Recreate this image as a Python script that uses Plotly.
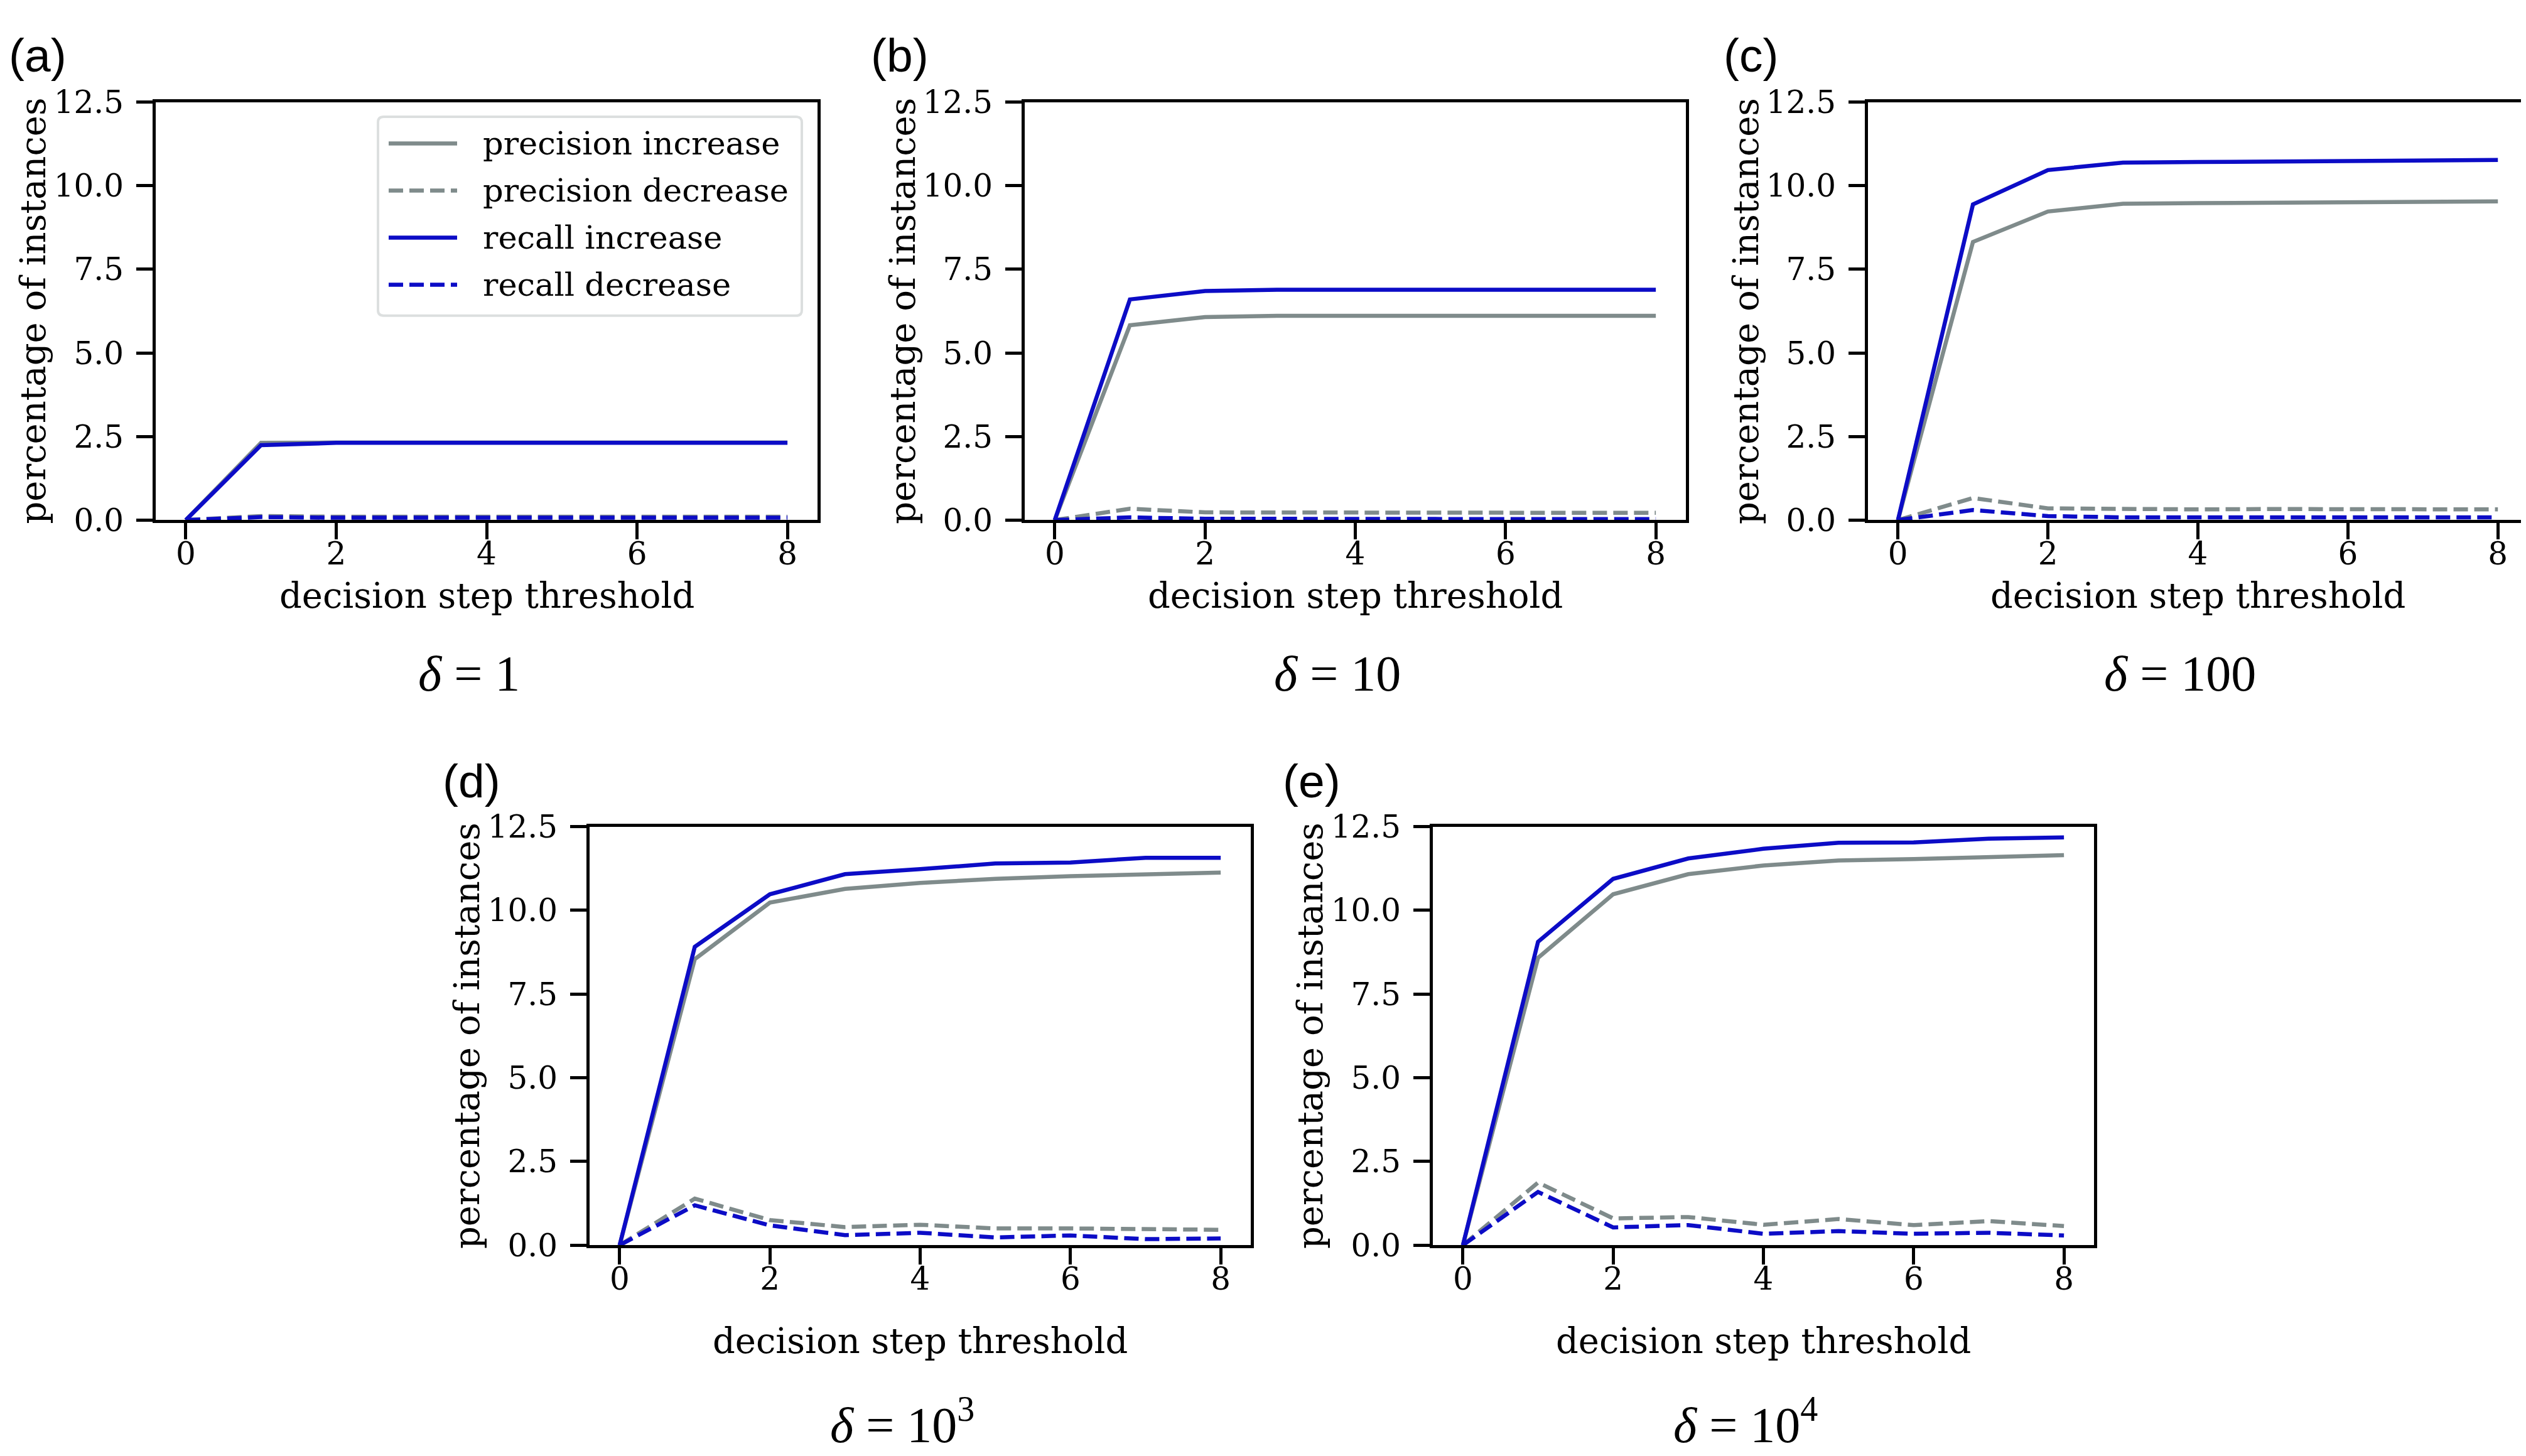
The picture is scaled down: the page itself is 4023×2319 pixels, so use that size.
import plotly.graph_objects as go

# decision step threshold (shared x values)
steps = [0, 1, 2, 3, 4, 5, 6, 7, 8]

# (a) delta = 1
a_prec_inc = [0, 2.31, 2.32, 2.32, 2.32, 2.32, 2.32, 2.32, 2.32]
a_prec_dec = [0, 0.12, 0.10, 0.10, 0.10, 0.10, 0.10, 0.10, 0.10]
a_rec_inc = [0, 2.24, 2.31, 2.31, 2.31, 2.31, 2.31, 2.31, 2.31]
a_rec_dec = [0, 0.09, 0.07, 0.07, 0.07, 0.07, 0.07, 0.07, 0.07]

# (b) delta = 10
b_prec_inc = [0, 5.83, 6.07, 6.11, 6.11, 6.11, 6.11, 6.11, 6.11]
b_prec_dec = [0, 0.34, 0.23, 0.22, 0.22, 0.22, 0.22, 0.22, 0.22]
b_rec_inc = [0, 6.60, 6.85, 6.89, 6.89, 6.89, 6.89, 6.89, 6.89]
b_rec_dec = [0, 0.08, 0.04, 0.03, 0.03, 0.03, 0.03, 0.03, 0.03]

# (c) delta = 100
c_prec_inc = [0, 8.32, 9.23, 9.46, 9.48, 9.49, 9.51, 9.52, 9.53]
c_prec_dec = [0, 0.66, 0.35, 0.32, 0.32, 0.33, 0.33, 0.33, 0.32]
c_rec_inc = [0, 9.44, 10.47, 10.69, 10.71, 10.73, 10.76, 10.77, 10.77]
c_rec_dec = [0, 0.30, 0.12, 0.08, 0.08, 0.08, 0.09, 0.09, 0.08]

# (d) delta = 10^3
d_prec_inc = [0, 8.54, 10.23, 10.64, 10.82, 10.94, 11.02, 11.08, 11.13]
d_prec_dec = [0, 1.39, 0.75, 0.54, 0.61, 0.50, 0.50, 0.48, 0.46]
d_rec_inc = [0, 8.91, 10.48, 11.08, 11.23, 11.40, 11.43, 11.57, 11.57]
d_rec_dec = [0, 1.19, 0.59, 0.30, 0.37, 0.23, 0.29, 0.18, 0.20]

# (e) delta = 10^4
e_prec_inc = [0, 8.58, 10.48, 11.08, 11.34, 11.49, 11.53, 11.58, 11.65]
e_prec_dec = [0, 1.87, 0.80, 0.84, 0.61, 0.78, 0.60, 0.72, 0.57]
e_rec_inc = [0, 9.06, 10.94, 11.55, 11.84, 12.02, 12.03, 12.14, 12.18]
e_rec_dec = [0, 1.59, 0.53, 0.60, 0.34, 0.42, 0.34, 0.37, 0.29]

series_names = ['precision increase', 'precision decrease', 'recall increase', 'recall decrease']
panel_labels = ['(a)', '(b)', '(c)', '(d)', '(e)']
deltas = ['<i>δ</i> = 1', '<i>δ</i> = 10', '<i>δ</i> = 100',
          '<i>δ</i> = 10<sup>3</sup>', '<i>δ</i> = 10<sup>4</sup>']
y_ticks = [0, 2.5, 5, 7.5, 10, 12.5]
x_ticks = [0, 2, 4, 6, 8]

panels = [
    (a_prec_inc, a_prec_dec, a_rec_inc, a_rec_dec),
    (b_prec_inc, b_prec_dec, b_rec_inc, b_rec_dec),
    (c_prec_inc, c_prec_dec, c_rec_inc, c_rec_dec),
    (d_prec_inc, d_prec_dec, d_rec_inc, d_rec_dec),
    (e_prec_inc, e_prec_dec, e_rec_inc, e_rec_dec),
]

GRAY = '#7f8b8b'
BLUE = '#0c0cc6'
SERIF = 'DejaVu Serif'
W, H = 4023, 2319
DASH = '23px,10px'
LW = 6.5

# axes boxes in pixels: left, right, top, bottom
boxes = [
    (240, 1294, 129, 812),
    (1624, 2677, 129, 812),
    (2967, 4018, 129, 812),
    (931, 1984, 1313, 1997),
    (2274, 3327, 1313, 1997),
]
label_pos = [(52, 52), (1425, 52), (2780, 52), (743, 1239), (2081, 1239)]

styles = [(GRAY, 'solid'), (GRAY, DASH), (BLUE, 'solid'), (BLUE, DASH)]


def px_x(v):
    return v / W


def px_y(v):
    return 1 - v / H


fig = go.Figure()
annotations = []
shapes = []

for i, data in enumerate(panels):
    n = '' if i == 0 else str(i + 1)
    for j, vals in enumerate(data):
        color, dash = styles[j]
        fig.add_trace(go.Scatter(
            x=steps, y=vals, mode='lines', name=series_names[j],
            line=dict(color=color, width=LW, dash=dash),
            xaxis='x' + n, yaxis='y' + n, showlegend=False))

    left, right, top, bottom = boxes[i]
    axis_common = dict(showline=True, linecolor='black', linewidth=5, mirror=True,
                       ticks='outside', ticklen=26, tickwidth=4.5, tickcolor='black',
                       showgrid=False, zeroline=False,
                       tickfont=dict(family=SERIF, size=50, color='black'))
    fig.update_layout(**{
        'xaxis' + n: dict(domain=[px_x(left), px_x(right)], range=[-0.4, 8.4],
                          tickvals=x_ticks, anchor='y' + n, ticklabelstandoff=-20,
                          **axis_common),
        'yaxis' + n: dict(domain=[px_y(bottom), px_y(top)], range=[0, 12.5],
                          tickvals=y_ticks, tickformat='.1f', anchor='x' + n,
                          ticklabelstandoff=10, **axis_common),
    })

    xdom = 'x' + n + ' domain'
    ydom = 'y' + n + ' domain'
    row_top = i < 3
    annotations.append(dict(text='decision step threshold', xref=xdom, yref=ydom,
                            x=0.5, y=-0.18 if row_top else -0.228, showarrow=False,
                            xanchor='center', yanchor='middle',
                            font=dict(family=SERIF, size=56, color='black')))
    annotations.append(dict(text='percentage of instances', xref=xdom, yref=ydom,
                            x=-0.185, y=0.5, textangle=-90, showarrow=False,
                            xanchor='center', yanchor='middle',
                            font=dict(family=SERIF, size=56, color='black')))
    annotations.append(dict(text=deltas[i], xref=xdom, yref=ydom,
                            x=0.473, y=-0.368 if row_top else -0.42, showarrow=False,
                            xanchor='center', yanchor='middle',
                            font=dict(family='Liberation Serif', size=80, color='black')))
    lx, ly = label_pos[i]
    annotations.append(dict(text=panel_labels[i], xref='paper', yref='paper',
                            x=px_x(lx), y=px_y(ly), showarrow=False,
                            xanchor='center', yanchor='middle',
                            font=dict(family='Liberation Sans', size=75, color='black')))

# legend box drawn inside panel (a), matplotlib style
lx0, lx1, ly0, ly1, r = 594, 1269, 153, 478, 9
rx, ry = r / W, r / H
x0, x1, y0, y1 = px_x(lx0), px_x(lx1), px_y(ly0), px_y(ly1)
box_path = (f'M {x0 + rx},{y0} L {x1 - rx},{y0} Q {x1},{y0} {x1},{y0 - ry} '
            f'L {x1},{y1 + ry} Q {x1},{y1} {x1 - rx},{y1} '
            f'L {x0 + rx},{y1} Q {x0},{y1} {x0},{y1 + ry} '
            f'L {x0},{y0 - ry} Q {x0},{y0} {x0 + rx},{y0} Z')
shapes.append(dict(type='path', path=box_path, xref='paper', yref='paper',
                   fillcolor='white', line=dict(color='#dcdfdf', width=4), layer='above'))
for j, name in enumerate(series_names):
    color, dash = styles[j]
    row_y = 196.5 + 77 * j
    shapes.append(dict(type='line', xref='paper', yref='paper',
                       x0=px_x(611), x1=px_x(720), y0=px_y(row_y), y1=px_y(row_y),
                       line=dict(color=color, width=LW, dash=dash), layer='above'))
    annotations.append(dict(text=name, xref='paper', yref='paper',
                            x=px_x(759), y=px_y(row_y), showarrow=False,
                            xanchor='left', yanchor='middle',
                            font=dict(family=SERIF, size=51, color='black')))

fig.update_layout(
    width=W, height=H,
    margin=dict(l=0, r=0, t=0, b=0),
    paper_bgcolor='white', plot_bgcolor='white',
    annotations=annotations,
    shapes=shapes,
    showlegend=False,
)

fig.write_html("out.html")
